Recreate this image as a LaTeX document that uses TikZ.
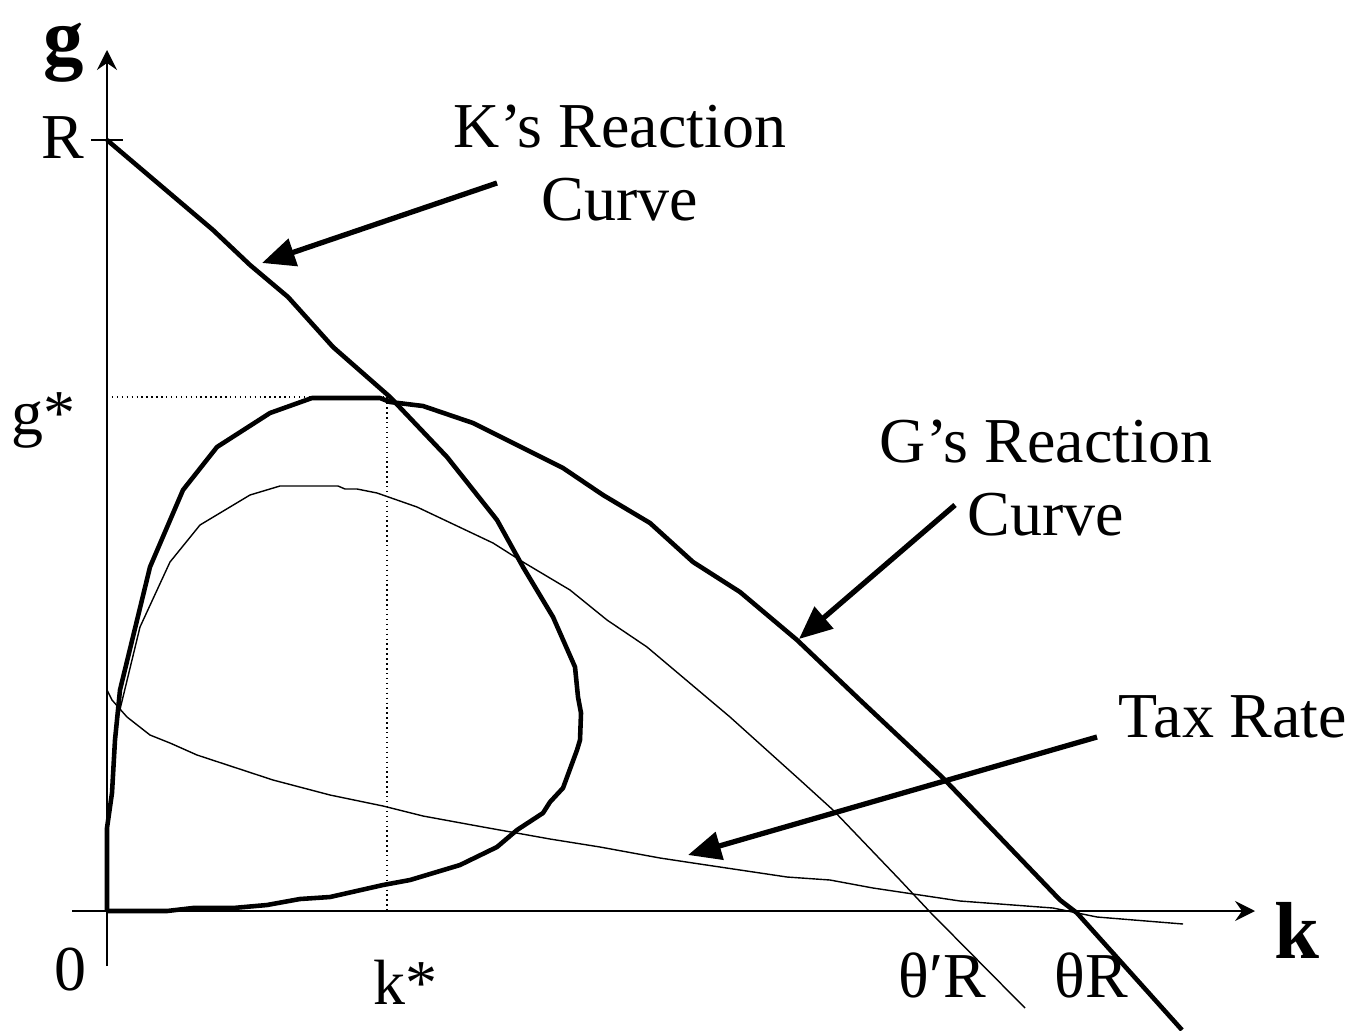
\documentclass[tikz,border=0pt]{standalone}
\usepackage{fontspec}
\setmainfont{Liberation Serif}
\usetikzlibrary{arrows.meta}
\begin{document}
\begin{tikzpicture}[
  every node/.style={font=\fontsize{18.2}{20.8}\selectfont, inner sep=0pt},
  axis/.style={line width=0.45pt, -{Stealth[length=2mm, width=2mm, inset=0.7mm]}},
  reaction/.style={line width=1.3pt, line join=round},
  thincurve/.style={line width=0.4pt, line join=round},
  callout/.style={line width=1.5pt, -{Triangle[length=3.3mm, width=2.8mm]}},
  guide/.style={line width=0.4pt, densely dotted},
  axisname/.style={font=\fontsize{23}{28}\selectfont\bfseries},
]
\useasboundingbox (-1.07,-1.19) rectangle (12.45,9.11);

% Axes
\coordinate (ybot) at (0,-0.55);
\coordinate (ytop) at (0,8.61);
\coordinate (xleft) at (-0.35,0);
\coordinate (xright) at (11.48,0);
\draw[axis] (ybot) -- (ytop);
\draw[axis] (xleft) -- (xright);
\coordinate (tickl) at (-0.16,7.71);
\coordinate (tickr) at (0.16,7.71);
\draw[line width=0.45pt] (tickl) -- (tickr);

\node[axisname] (gname) at (-0.43,8.58) {g};
\node[axisname] (kname) at (11.90,-0.19) {k};
\node (Rlab) at (-0.44,7.73) {R};
\node (gstar) at (-0.64,4.91) {g*};
\node (zero) at (-0.37,-0.59) {0};
\node (kstar) at (2.98,-0.71) {k*};
\node (thpR) at (8.35,-0.64) {θ′R};
\node (thR) at (9.84,-0.64) {θR};

% Equilibrium guides
\coordinate (eq) at (2.80,5.14);
\coordinate (eqy) at (0,5.14);
\coordinate (eqx) at (2.80,0);
\draw[guide] (eqy) -- (eq) -- (eqx);

% K's reaction curve
\draw[reaction] (0,7.71) -- (1.06,6.81) -- (1.43,6.46) -- (1.81,6.14) -- (2.26,5.64)
  -- (2.83,5.14) -- (3.40,4.54) -- (3.90,3.91) -- (4.16,3.44) -- (4.46,2.94)
  -- (4.68,2.44) -- (4.71,2.14) -- (4.74,1.98) -- (4.73,1.71) -- (4.70,1.61)
  -- (4.56,1.23) -- (4.43,1.09) -- (4.36,0.98) -- (4.10,0.81) -- (3.90,0.64)
  -- (3.53,0.46) -- (3.03,0.31) -- (2.76,0.26) -- (2.23,0.14) -- (1.93,0.12)
  -- (1.60,0.06) -- (1.26,0.03) -- (0.86,0.03) -- (0.60,0) -- (0,0);

% G's reaction curve
\draw[reaction] (0,0) -- (0,0.83) -- (0.05,1.18) -- (0.08,1.71) -- (0.13,2.21)
  -- (0.43,3.44) -- (0.76,4.21) -- (1.10,4.64) -- (1.63,4.98) -- (2.05,5.13)
  -- (2.73,5.13) -- (2.83,5.09) -- (3.16,5.05) -- (3.66,4.88) -- (4.06,4.68)
  -- (4.56,4.43) -- (4.96,4.16) -- (5.43,3.88) -- (5.86,3.49) -- (6.33,3.19)
  -- (6.90,2.71) -- (7.53,2.11) -- (8.36,1.33) -- (9.53,0.11) -- (9.70,-0.02)
  -- (10.75,-1.19);

% G's curve at the lower tax rate
\draw[thincurve] (0.08,1.81) -- (0.33,2.84) -- (0.63,3.49) -- (0.93,3.86) -- (1.43,4.16)
  -- (1.73,4.25) -- (2.31,4.25) -- (2.38,4.22) -- (2.50,4.22) -- (2.70,4.18)
  -- (3.10,4.04) -- (3.86,3.68) -- (4.16,3.49) -- (4.63,3.21) -- (5.00,2.91)
  -- (5.40,2.64) -- (6.23,1.94) -- (6.93,1.31) -- (7.26,1.01) -- (7.93,0.31)
  -- (8.23,-0.01) -- (9.18,-0.97);

% Tax rate
\draw[thincurve] (0,2.21) -- (0.05,2.11) -- (0.20,1.94) -- (0.43,1.76) -- (0.63,1.68)
  -- (0.90,1.56) -- (1.66,1.31) -- (2.23,1.16) -- (2.76,1.05) -- (3.16,0.95)
  -- (3.76,0.84) -- (4.43,0.72) -- (4.93,0.64) -- (5.53,0.53) -- (5.86,0.48)
  -- (6.80,0.34) -- (7.23,0.31) -- (7.66,0.23) -- (8.53,0.10) -- (9.46,0.03)
  -- (9.90,-0.06) -- (10.76,-0.13);

% Callouts
\node[align=center] (Klab) at (5.13,7.48) {K’s Reaction\\Curve};
\node[align=center] (Glab) at (9.39,4.33) {G’s Reaction\\Curve};
\node (Tlab) at (11.26,1.94) {Tax Rate};
\coordinate (Ktail) at (3.90,7.28);
\coordinate (Khead) at (1.55,6.48);
\coordinate (Gtail) at (8.48,4.06);
\coordinate (Ghead) at (6.92,2.72);
\coordinate (Ttail) at (9.90,1.74);
\coordinate (Thead) at (5.81,0.56);
\draw[callout] (Ktail) -- (Khead);
\draw[callout] (Gtail) -- (Ghead);
\draw[callout] (Ttail) -- (Thead);

\end{tikzpicture}
\end{document}
